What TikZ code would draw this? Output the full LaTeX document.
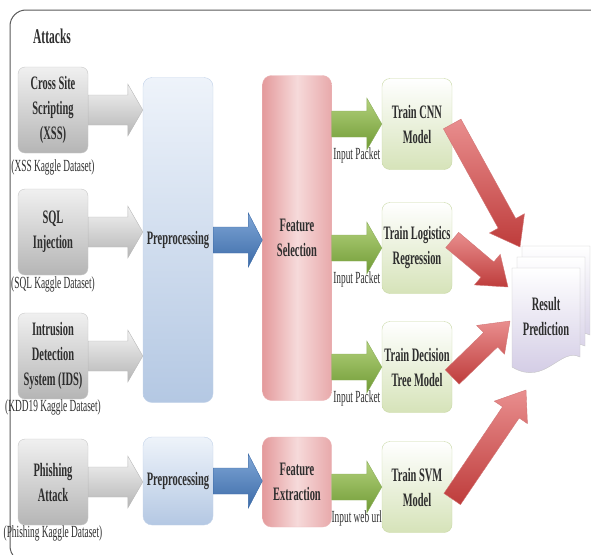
\documentclass[tikz,border=0pt]{standalone}
\usepackage{fontspec}
\setmainfont{Liberation Serif}[FakeStretch=0.55]
\usepackage{tikz}
\usetikzlibrary{positioning,calc}
\definecolor{ink}{HTML}{2E2E2E}
\definecolor{preTop}{HTML}{EEF3FA}
\definecolor{preBot}{HTML}{B4C8E3}
\definecolor{featEdge}{HTML}{E49A9C}
\definecolor{featMid}{HTML}{F6DADA}
\definecolor{trainBot}{HTML}{D6E3B9}
\definecolor{trainLine}{HTML}{C9D9A6}
\definecolor{grnTop}{HTML}{B3D17C}
\definecolor{grnBot}{HTML}{6F9A34}
\definecolor{bluTop}{HTML}{7FA6D6}
\definecolor{bluBot}{HTML}{3C6BA8}
\definecolor{redTop}{HTML}{E98E8E}
\definecolor{redBot}{HTML}{BE3C3B}
\definecolor{resBot}{HTML}{CEC6E2}

\tikzset{
  boxfont/.style={font=\fontsize{19}{25}\selectfont\bfseries, text=ink, align=center, inner sep=0pt},
  title/.style={font=\fontsize{21}{24}\selectfont\bfseries, text=ink},
  attack/.style={boxfont, rounded corners=7pt, draw=gray!45, top color=gray!12, bottom color=gray!58,
    minimum width=70pt, minimum height=86pt},
  dslabel/.style={font=\fontsize{17}{20}\selectfont, text=ink, inner sep=0pt},
  inlabel/.style={font=\fontsize{17}{20}\selectfont, text=ink, inner sep=0pt},
  pre/.style={boxfont, rounded corners=9pt, top color=preTop, bottom color=preBot, draw=preBot!80, minimum width=70pt},
  feat/.style={boxfont, rounded corners=9pt, left color=featEdge, right color=featEdge!85, middle color=featMid,
    draw=featEdge!70, minimum width=69pt},
  train/.style={boxfont, rounded corners=8pt, top color=white, bottom color=trainBot, draw=trainLine,
    minimum width=70pt, minimum height=91pt},
  docpage/.style={draw=gray!45, top color=white, bottom color=resBot},
  % block arrow: body half width / head half width / head length
  fat/.style args={#1/#2/#3}{to path={
    ($(\tikztostart)!#1!90:(\tikztotarget)$)
    -- ($(\tikztotarget)!#3!(\tikztostart)!#1!-90:(\tikztostart)$)
    -- ($(\tikztotarget)!#3!(\tikztostart)!#2!-90:(\tikztostart)$)
    -- (\tikztotarget)
    -- ($(\tikztotarget)!#3!(\tikztostart)!#2!90:(\tikztostart)$)
    -- ($(\tikztotarget)!#3!(\tikztostart)!#1!90:(\tikztostart)$)
    -- ($(\tikztostart)!#1!-90:(\tikztotarget)$)
    -- cycle}},
  grayarrow/.style={fat=15pt/26pt/15pt, draw=gray!55, top color=gray!10, bottom color=gray!58},
  bluearrow/.style={fat=13pt/27pt/14pt, draw=bluBot, top color=bluTop, bottom color=bluBot},
  greenarrow/.style={fat=13pt/26pt/15pt, draw=grnBot!80, top color=grnTop, bottom color=grnBot},
  redarrow/.style={fat=10pt/20pt/27pt, draw=redBot!70, top color=redTop, bottom color=redBot},
}

\begin{document}
\begin{tikzpicture}[x=1pt,y=-1pt]
  \useasboundingbox (0,0) rectangle (591,554);
  % frame
  \draw[gray!70!black, line width=1pt, rounded corners=16pt] (10,10) rectangle (640,562);
  \node[title] (atk) at (52,36) {Attacks};

  % preprocessing / features / models
  \node[pre, minimum height=325pt] (pre1) at (178,240) {Preprocessing};
  \node[pre, minimum height=88pt] (pre2) at (178,481) {Preprocessing};
  \node[feat, minimum height=325pt] (feat1) at (297,238) {Feature\\Selection};
  \node[feat, minimum height=90pt] (feat2) at (297,482) {Feature\\Extraction};
  \node[train] (cnn) at (417,124) {Train CNN\\Model};
  \node[train] (logi) at (417,248) {Train Logistics\\Regression};
  \node[train] (dtree) at (417,367) {Train Decision\\Tree Model};
  \node[train] (svm) at (417,487) {Train SVM\\Model};

  % attacks
  \foreach \n/\y/\t/\d/\g in {xss/110/{Cross Site\\Scripting\\(XSS)}/(XSS Kaggle Dataset)/6pt,
      sql/232/{SQL\\Injection}/(SQL Kaggle Dataset)/1pt,
      ids/356/{Intrusion\\Detection\\System (IDS)}/(KDD19 Kaggle Dataset)/0pt,
      phish/482/{Phishing\\Attack}/(Phishing Kaggle Dataset)/0pt}
  {
    \node[attack] (\n) at (53,\y) {\t};
    \node[dslabel, below=\g of \n] (\n-ds) {\d};
    \path[grayarrow] (\n.east) to (\n.east -| pre1.west);
  }

  \path[bluearrow] (pre1.east) to (pre1.east -| feat1.west);
  \path[bluearrow] (pre2.east) to (pre2.east -| feat2.west);

  \foreach \m/\l in {cnn/Input Packet, logi/Input Packet, dtree/Input Packet, svm/Input web url}
  {
    \path[greenarrow] (\m.west -| feat1.east) to (\m.west);
    \node[inlabel] (\m-in) at ($(\m.south west)+(-25,-14)$) {\l};
  }

  % result prediction (stacked pages)
  \foreach \dx/\dy in {10/-22, 5/-11, 0/0}
    \path[docpage, shift={(\dx,\dy)}] (512,268) -- (580,268) -- (580,357)
      .. controls (560,347) and (545,387) .. (512,367) -- cycle;
  \node[boxfont] (res) at (546,316) {Result\\Prediction};

  \coordinate (tip1) at (520,247);
  \coordinate (tip2) at (508,287);
  \coordinate (tip3) at (510,321);
  \coordinate (tip4) at (526,390);
  \path[redarrow] (cnn.east) to (tip1);
  \path[redarrow] ([yshift=8pt]logi.east) to (tip2);
  \path[redarrow] ([yshift=-10pt]dtree.east) to (tip3);
  \path[redarrow] ([yshift=-12pt]svm.east) to (tip4);
\end{tikzpicture}
\end{document}
